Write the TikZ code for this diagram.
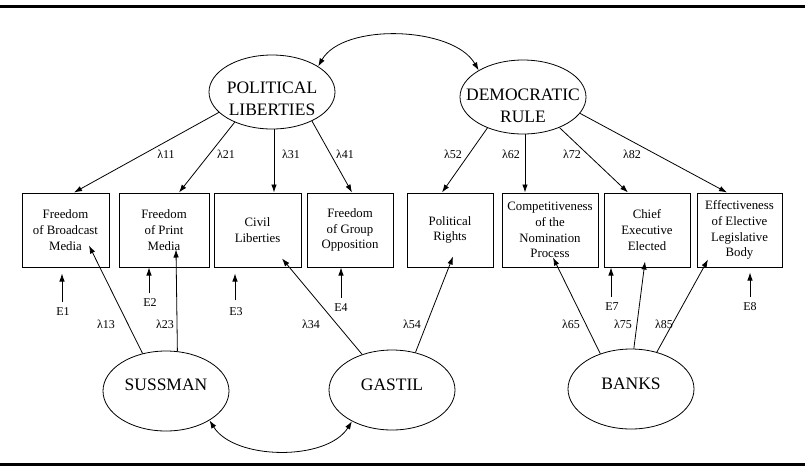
\documentclass[tikz,border=0pt]{standalone}
\usepackage{fontspec}
\setmainfont{Liberation Serif}
\usetikzlibrary{shapes.geometric,arrows.meta}
\begin{document}
\begin{tikzpicture}[x=1pt,y=-1pt,
  lat/.style={ellipse, draw, line width=0.8pt, minimum width=126pt, minimum height=74pt, inner sep=0pt},
  lattext/.style={font=\fontsize{17.5}{21.5}\selectfont, align=center, inner sep=0pt},
  obs/.style={draw, line width=1pt, minimum height=74pt, inner sep=0pt, font=\fontsize{12.8}{15.8}\selectfont, align=center},
  arr/.style={line width=0.8pt, -{Latex[length=8pt,width=5.5pt]}},
  dbl/.style={line width=0.8pt, {Latex[length=8pt,width=5.5pt]}-{Latex[length=8pt,width=5.5pt]}},
  lam/.style={font=\fontsize{12}{14}\selectfont, inner sep=1pt},
  err/.style={font=\fontsize{12}{14}\selectfont, inner sep=1pt},
  rulebar/.style={line width=3pt}]
\useasboundingbox (0,0) rectangle (805,467);
\draw[rulebar] (0,6) -- (805,6);
\draw[rulebar] (0,464.5) -- (805,464.5);

% latent factors
\node[lat] (PL) at (272,92) {};
\node[lattext] (PLt) at (272,99) {POLITICAL\\LIBERTIES};
\node[lat] (DR) at (523,97) {};
\node[lattext] (DRt) at (523,106) {DEMOCRATIC\\RULE};
\node[lat, minimum height=80pt] (S) at (166,391) {};
\node[lattext] (St) at (166,385) {SUSSMAN};
\node[lat, minimum height=80pt] (G) at (392,390) {};
\node[lattext] (Gt) at (392,385) {GASTIL};
\node[lat, minimum height=80pt] (B) at (631,389) {};
\node[lattext] (Bt) at (631,384) {BANKS};

% observed boxes
\node[obs, minimum width=87pt] (b1) at (65.5,230) {Freedom\\of Broadcast\\Media};
\node[obs, minimum width=90pt] (b2) at (164,230) {Freedom\\of Print\\Media};
\node[obs, minimum width=87pt] (b3) at (257.5,230) {Civil\\Liberties};
\node[obs, minimum width=86pt] (b4) at (350,230) {Freedom\\of Group\\Opposition};
\node[obs, minimum width=86pt] (b5) at (450,230) {Political\\Rights};
\node[obs, minimum width=96pt] (b6) at (550,230) {Competitiveness\\of the\\Nomination\\Process};
\node[obs, minimum width=86pt] (b7) at (647,230) {Chief\\Executive\\Elected};
\node[obs, minimum width=85pt] (b8) at (739.5,230) {Effectiveness\\of Elective\\Legislative\\Body};

% correlations
\draw[dbl] (PL.29) .. controls +(25,-44) and +(-25,-44) .. (DR.149);
\draw[dbl] (S.326) .. controls +(25,40) and +(-25,40) .. (G.218);

% loadings from top factors
\draw[arr] (PL.201) -- ([xshift=8.5]b1.north);
\draw[arr] (PL.219) -- ([xshift=15]b2.north);
\draw[arr] ([xshift=2]PL.south) -- ([xshift=16.5]b3.north);
\draw[arr] (PL.324) -- ([xshift=2]b4.north);
\draw[arr] (DR.221) -- ([xshift=-8]b5.north);
\draw[arr] ([xshift=2]DR.south) -- ([xshift=-25]b6.north);
\draw[arr] (DR.320) -- ([xshift=-19]b7.north);
\draw[arr] (DR.344) -- ([xshift=-12.5]b8.north);

\node[lam] (l11) at (166,154) {λ11};
\node[lam] (l21) at (226,154) {λ21};
\node[lam] (l31) at (291,154) {λ31};
\node[lam] (l41) at (345,154) {λ41};
\node[lam] (l52) at (453,154) {λ52};
\node[lam] (l62) at (511,154) {λ62};
\node[lam] (l72) at (572,154) {λ72};
\node[lam] (l82) at (632,154) {λ82};

% loadings from method factors
\draw[arr] (S.122) -- ([xshift=23.5,yshift=22]b1.south);
\draw[arr] (S.74) -- ([xshift=12,yshift=18]b2.south);
\draw[arr] (G.130) -- ([xshift=24.5,yshift=9]b3.south);
\draw[arr] (G.58) -- ([xshift=3,yshift=11]b5.south);
\draw[arr] (B.131) -- ([xshift=3,yshift=10]b6.south);
\draw[arr] (B.86) -- ([xshift=-2,yshift=6]b7.south);
\draw[arr] (B.55) -- ([xshift=-31.5,yshift=8]b8.south);

\node[lam] (l13) at (106,324) {λ13};
\node[lam] (l23) at (165,324) {λ23};
\node[lam] (l34) at (311,324) {λ34};
\node[lam] (l54) at (412,324) {λ54};
\node[lam] (l65) at (571,324) {λ65};
\node[lam] (l75) at (623,324) {λ75};
\node[lam] (l85) at (664,324) {λ85};

% errors
\node[err] (e1) at (63,312) {E1};
\node[err] (e2) at (150,302.5) {E2};
\node[err] (e3) at (236,311.5) {E3};
\node[err] (e4) at (341,308) {E4};
\node[err] (e7) at (612,307) {E7};
\node[err] (e8) at (750,307) {E8};
\draw[arr, shorten <=5pt, shorten >=6pt] ([xshift=-1]e1.north) -- ([xshift=-1]e1.north |- b1.south);
\draw[arr, shorten <=4pt] ([xshift=-1]e2.north) -- ([xshift=-1]e2.north |- b2.south);
\draw[arr, shorten <=6pt, shorten >=6pt] ([xshift=-1]e3.north) -- ([xshift=-1]e3.north |- b3.south);
\draw[arr, shorten <=5pt] (e4.north) -- (e4.north |- b4.south);
\draw[arr, shorten <=5pt] ([xshift=-1]e7.north) -- ([xshift=-1]e7.north |- b7.south);
\draw[arr, shorten <=5pt, shorten >=5pt] (e8.north) -- (e8.north |- b8.south);
\end{tikzpicture}
\end{document}
